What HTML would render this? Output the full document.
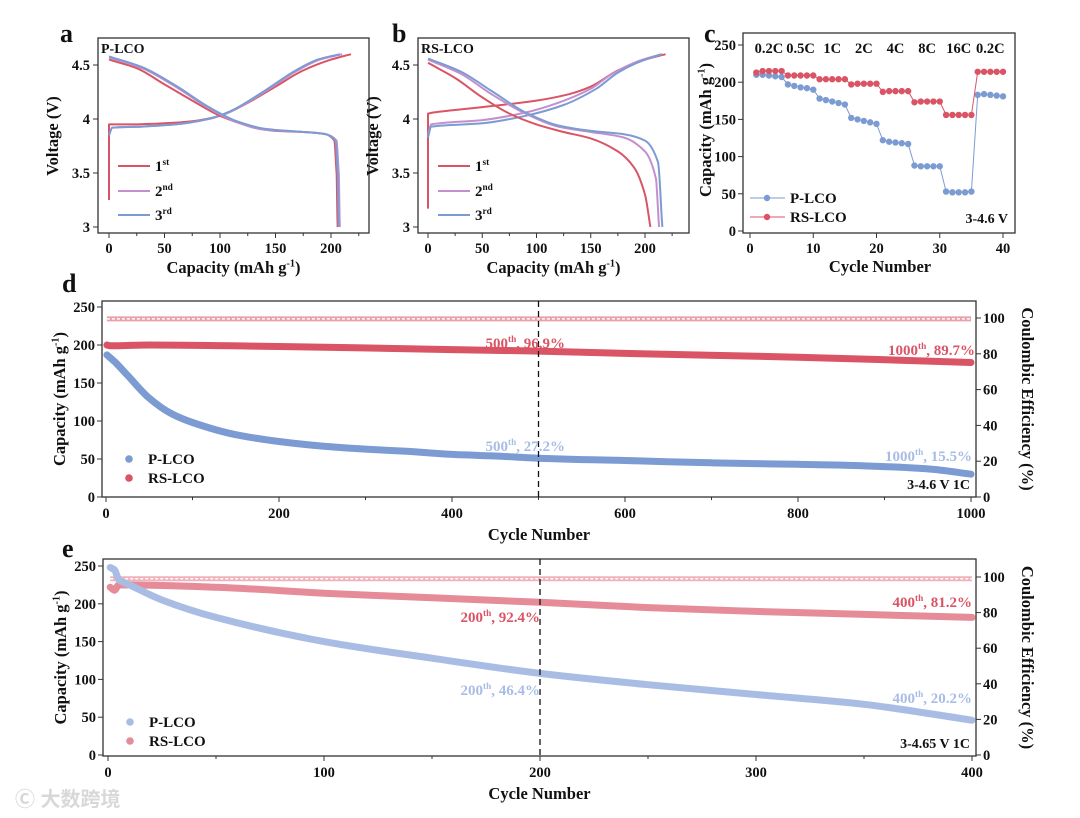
<!DOCTYPE html>
<html><head><meta charset="utf-8">
<style>
html,body{margin:0;padding:0;background:#fff;}
svg{display:block;font-family:"Liberation Serif",serif;font-weight:bold;}
</style></head>
<body>
<svg id="fig" width="1080" height="818" viewBox="0 0 1080 818" xmlns="http://www.w3.org/2000/svg"></svg>
<script>
// ---- Panel a data (capacity, voltage)
const aCh1X=[0,0,20,50,75,100,125,150,175,200,218];
const aCh1Y=[3.25,3.95,3.95,3.96,3.98,4.03,4.15,4.3,4.45,4.55,4.6];
const aCh2X=[0,3,30,60,90,110,140,170,190,210];
const aCh2Y=[3.85,3.92,3.93,3.95,4.0,4.07,4.25,4.45,4.55,4.6];
const aDc1X=[0,25,50,75,100,125,150,175,195,203,205,206];
const aDc1Y=[4.55,4.47,4.32,4.17,4.03,3.94,3.89,3.88,3.86,3.8,3.5,3.0];
const aDc2X=[0,30,60,90,115,140,175,195,205,207,208];
const aDc2Y=[4.57,4.47,4.3,4.1,3.97,3.9,3.88,3.86,3.8,3.5,3.0];
const aDc3X=[0,30,60,90,115,140,175,195,204,206,207];
const aDc3Y=[4.58,4.48,4.31,4.11,3.98,3.91,3.88,3.86,3.8,3.5,3.0];
// ---- Panel b data
const bCh1X=[0,0,5,50,100,130,150,175,200,219];
const bCh1Y=[3.17,4.05,4.06,4.11,4.17,4.23,4.3,4.45,4.55,4.6];
const bCh2X=[0,3,50,90,120,150,170,195,215];
const bCh2Y=[3.85,3.95,3.99,4.06,4.15,4.28,4.42,4.54,4.6];
const bCh3X=[0,3,50,90,125,155,175,195,216];
const bCh3Y=[3.83,3.93,3.96,4.03,4.13,4.28,4.43,4.53,4.6];
const bDc1X=[0,25,50,75,100,125,150,175,190,200,205];
const bDc1Y=[4.52,4.38,4.2,4.05,3.95,3.88,3.82,3.7,3.55,3.3,3.0];
const bDc2X=[0,30,60,90,120,150,180,200,210,213];
const bDc2Y=[4.55,4.42,4.22,4.05,3.93,3.88,3.83,3.7,3.45,3.0];
const bDc3X=[0,30,60,90,120,150,180,200,212,216];
const bDc3Y=[4.56,4.44,4.25,4.06,3.94,3.89,3.86,3.8,3.6,3.0];
// ---- Panel c data
const cCycles=[1,2,3,4,5,6,7,8,9,10,11,12,13,14,15,16,17,18,19,20,21,22,23,24,25,26,27,28,29,30,31,32,33,34,35,36,37,38,39,40];
const cP=[210,210,209,208,207,197,195,193,192,190,178,176,174,172,170,152,150,148,146,144,122,120,119,118,117,88,87,87,87,87,53,52,52,52,53,183,184,183,182,181];
const cRS=[213,215,215,215,215,209,209,209,209,209,204,204,204,204,204,197,198,198,198,198,187,188,188,188,188,173,174,174,174,174,156,156,156,156,156,214,214,214,214,214];
const cRates=["0.2C","0.5C","1C","2C","4C","8C","16C","0.2C"];
// ---- Panel d data
const dPX=[1,10,25,50,75,100,150,200,250,300,350,400,450,500,600,700,750,800,850,900,950,1000];
const dPY=[187,178,160,130,110,98,82,73,67,63,60,56,54,51,48,45,44,43,42,40,37,30];
const dRX=[1,5,50,200,400,500,600,800,1000];
const dRY=[200,199,200,198,194,192,189,184,177];
const dCEX=[1,1000];
const dCEY=[99.5,99.5];
// ---- Panel e data
const ePX=[1,3,5,10,25,50,100,150,200,250,300,350,400];
const ePY=[248,245,232,225,205,182,150,128,108,93,80,67,46];
const eRX=[1,3,5,50,100,150,200,250,300,350,400];
const eRY=[222,218,225,222,214,208,202,195,190,186,182];
const eCEX=[1,400];
const eCEY=[99,99];

const NS="http://www.w3.org/2000/svg";
const svg=document.getElementById('fig');
function el(tag,attrs,parent){const e=document.createElementNS(NS,tag);for(const k in attrs)e.setAttribute(k,attrs[k]);(parent||svg).appendChild(e);return e;}
function txt(x,y,s,size,anchor,fill,parent){const t=el('text',{x:x,y:y,'font-size':size,'text-anchor':anchor||'start',fill:fill||'#111'},parent);t.textContent=s;return t;}
function sup(x,y,base,sp,rest,size,anchor,fill){const t=el('text',{x:x,y:y,'font-size':size,'text-anchor':anchor||'start',fill:fill||'#111'});
 const a=el('tspan',{},t);a.textContent=base;const b=el('tspan',{dy:-size*0.4,'font-size':size*0.62},t);b.textContent=sp;const c=el('tspan',{dy:size*0.4},t);c.textContent=rest;return t;}
function lin(d0,d1,p0,p1){return v=>p0+(v-d0)*(p1-p0)/(d1-d0);}
function path(xs,ys,sx,sy){return xs.map((v,i)=>(i?'L':'M')+sx(v).toFixed(1)+','+sy(ys[i]).toFixed(1)).join(' ');}
// monotone-in-x smoothing (Fritsch-Carlson style tangents) to avoid overshoot; vertical steps drawn straight
function smooth(xs,ys,sx,sy){
 const P=xs.map((v,i)=>[sx(v),sy(ys[i])]);
 let d='M'+P[0][0].toFixed(1)+','+P[0][1].toFixed(1);
 const n=P.length;
 const m=[];
 for(let i=0;i<n;i++){
  const a=i>0?P[i-1]:null,b=i<n-1?P[i+1]:null;
  const s1=a?(P[i][0]-a[0]>0.5?(P[i][1]-a[1])/(P[i][0]-a[0]):null):null;
  const s2=b?(b[0]-P[i][0]>0.5?(b[1]-P[i][1])/(b[0]-P[i][0]):null):null;
  if(s1===null||s2===null) m.push(s1===null?(s2===null?0:s2):s1);
  else if(s1*s2<=0) m.push(0);
  else m.push(2/(1/s1+1/s2));
 }
 for(let i=0;i<n-1;i++){
  const p1=P[i],p2=P[i+1],h=p2[0]-p1[0];
  if(h<=0.5){d+=' L'+p2[0].toFixed(1)+','+p2[1].toFixed(1);continue;}
  let m1=m[i],m2=m[i+1];
  const lim=12;m1=Math.max(-lim,Math.min(lim,m1));m2=Math.max(-lim,Math.min(lim,m2));
  d+=' C'+(p1[0]+h/3).toFixed(1)+','+(p1[1]+m1*h/3).toFixed(1)+' '+(p2[0]-h/3).toFixed(1)+','+(p2[1]-m2*h/3).toFixed(1)+' '+p2[0].toFixed(1)+','+p2[1].toFixed(1);
 }
 return d;
}

const RED='#d95565', BLUE='#7b9bd2', PURP='#c38fcf', LBLUE='#a9bde4', LRED='#e58c98';
const TK=14.5, TT=16.5;

// ================= Panels a & b =================
function voltPanel(L,R,x0,x200,name,label,letter,lx,curves){
 const g=el('g',{});
 
 
 const sx=lin(0,200,x0,x200), sy=lin(3,4.5,227,65);
 const box=el('rect',{x:L,y:38,width:R-L,height:195,fill:'none',stroke:'#333','stroke-width':1.3},g);
 
 
 [0,50,100,150,200].forEach(v=>{el('line',{x1:sx(v),x2:sx(v),y1:233,y2:238,stroke:'#333'},g);txt(sx(v),253,String(v),TK,'middle','#111',g);});
 [25,75,125,175,225].forEach(v=>el('line',{x1:sx(v),x2:sx(v),y1:233,y2:236,stroke:'#333'},g));
 [[3,'3'],[3.5,'3.5'],[4,'4'],[4.5,'4.5']].forEach(([v,s])=>{el('line',{x1:L-5,x2:L,y1:sy(v),y2:sy(v),stroke:'#333'},g);txt(L-8,sy(v)+5,s,TK,'end','#111',g);});
 curves.forEach(c=>{const p=el('path',{d:smooth(c[0],c[1],sx,sy),fill:'none',stroke:c[2],'stroke-width':2,'stroke-linejoin':'round'},g);
  
  });
 const t=sup(L+(R-L)/2,273,'Capacity (mAh g','-1',')',TT,'middle');
 
 
 const yt=txt(0,0,'Voltage (V)',TT,'middle','#111',g);
 yt.setAttribute('transform','translate('+(L-40)+',136) rotate(-90)');
 
 
 txt(L+3,53,label,14,'start','#111',g);
 const lt=txt(lx,42,letter,26,'start','#111',g);
 
 
 [['1','st',RED,171],['2','nd',PURP,196],['3','rd',BLUE,220]].forEach(([n,s,c,y])=>{
  el('line',{x1:L+20,x2:L+52,y1:y-5,y2:y-5,stroke:c,'stroke-width':2},g);
  const lg=sup(L+57,y,n,s,'',15,'start');
  
  
 });
}
voltPanel(98,369,109,331,'panel-a','P-LCO','a',60,[
 [aCh1X,aCh1Y,RED,'charge-1st'],[aCh2X,aCh2Y,PURP,'charge-2nd'],[aCh2X.map(v=>v*0.99),aCh2Y,BLUE,'charge-3rd'],
 [aDc1X,aDc1Y,RED,'discharge-1st'],[aDc2X,aDc2Y,PURP,'discharge-2nd'],[aDc3X,aDc3Y,BLUE,'discharge-3rd']]);
voltPanel(418,689,428,645,'panel-b','RS-LCO','b',392,[
 [bCh1X,bCh1Y,RED,'charge-1st'],[bCh2X,bCh2Y,PURP,'charge-2nd'],[bCh3X,bCh3Y,BLUE,'charge-3rd'],
 [bDc1X,bDc1Y,RED,'discharge-1st'],[bDc2X,bDc2Y,PURP,'discharge-2nd'],[bDc3X,bDc3Y,BLUE,'discharge-3rd']]);

// ================= Panel c =================
(function(){
 const g=el('g',{});
 
 
 const L=743,R=1015,T=33,B=233;
 const sx=lin(0,40,750,1003), sy=lin(0,250,231,45);
 el('rect',{x:L,y:T,width:R-L,height:B-T,fill:'none',stroke:'#333','stroke-width':1.3},g);
 [0,10,20,30,40].forEach(v=>{el('line',{x1:sx(v),x2:sx(v),y1:B,y2:B+5,stroke:'#333'},g);txt(sx(v),253,String(v),TK,'middle','#111',g);});
 [0,50,100,150,200,250].forEach(v=>{el('line',{x1:L-5,x2:L,y1:sy(v),y2:sy(v),stroke:'#333'},g);txt(L-7,sy(v)+5,String(v),TK,'end','#111',g);});
 [[cP,BLUE,'p-lco-rate'],[cRS,RED,'rs-lco-rate']].forEach(([d,c,n])=>{
  const p=el('path',{d:path(cCycles,d,sx,sy),fill:'none',stroke:c,'stroke-width':1},g);
  
  
  d.forEach((v,i)=>{const m=el('circle',{cx:sx(cCycles[i]),cy:sy(v),r:3.2,fill:c},g);
   
   });
 });
 cRates.forEach((s,i)=>{const t=txt(sx(i*5+3),53,s,14.5,'middle','#111',g);
  
  });
 [['P-LCO',BLUE,203],['RS-LCO',RED,222]].forEach(([s,c,y])=>{
  el('line',{x1:750,x2:785,y1:y-5,y2:y-5,stroke:c},g);el('circle',{cx:767,cy:y-5,r:3.2,fill:c},g);
  const t=txt(790,y,s,15,'start','#111',g);
  
  });
 txt(1008,223,'3-4.6 V',14,'end','#111',g);
 txt(880,272,'Cycle Number',TT,'middle','#111',g);
 const yt=sup(0,0,'Capacity (mAh g','-1',')',TT,'middle');
 yt.setAttribute('transform','translate(711,130) rotate(-90)');
 
 
 txt(704,42,'c',26,'start','#111',g);
})();

// ================= Panels d & e =================
function cyclePanel(o){
 const g=el('g',{});
 
 
 const {L,R,T,B}=o;
 const sx=lin(0,o.xmax,o.x0,o.xEnd), sy=lin(0,250,o.y0,o.y250), sy2=lin(0,100,o.y0,o.y100);
 el('rect',{x:L,y:T,width:R-L,height:B-T,fill:'none',stroke:'#333','stroke-width':1.3},g);
 o.xt.forEach(v=>{el('line',{x1:sx(v),x2:sx(v),y1:B,y2:B+5,stroke:'#333'},g);txt(sx(v),B+21,String(v),TK,'middle','#111',g);});
 o.xm.forEach(v=>el('line',{x1:sx(v),x2:sx(v),y1:B,y2:B+3,stroke:'#333'},g));
 [0,50,100,150,200,250].forEach(v=>{el('line',{x1:L-5,x2:L,y1:sy(v),y2:sy(v),stroke:'#333'},g);txt(L-7,sy(v)+5,String(v),TK,'end','#111',g);});
 [0,20,40,60,80,100].forEach(v=>{el('line',{x1:R,x2:R+5,y1:sy2(v),y2:sy2(v),stroke:'#333'},g);txt(R+7,sy2(v)+5,String(v),TK,'start','#111',g);});
 const ce=el('path',{d:path(o.ceX,o.ceY,sx,sy2),fill:'none',stroke:o.ceCol,'stroke-width':5},g);
 
 
 el('path',{d:path(o.ceX,o.ceY,sx,sy2),fill:'none',stroke:'#fff','stroke-width':1.5,'stroke-dasharray':'3 2'},g);
 const rs=el('path',{d:smooth(o.rX,o.rY,sx,sy),fill:'none',stroke:o.rc,'stroke-width':7,'stroke-linecap':'round'},g);
 
 
 const p=el('path',{d:smooth(o.pX,o.pY,sx,sy),fill:'none',stroke:o.pc,'stroke-width':7,'stroke-linecap':'round'},g);
 
 
 const dl=el('line',{x1:sx(o.mid),x2:sx(o.mid),y1:T,y2:B,stroke:'#111','stroke-width':1.3,'stroke-dasharray':'6 4'},g);
 
 
 o.ann.forEach(a=>{const t=sup(a[0],a[1],a[2],'th',a[3],15,'end',a[4]);
  
  });
 txt(R-6,B-8,o.cond,14,'end','#111',g);
 [['P-LCO',o.pc,o.legY],['RS-LCO',o.rc,o.legY+19]].forEach(([s,c,y])=>{
  el('circle',{cx:L+27,cy:y-5,r:3.8,fill:c},g);
  const t=txt(L+46,y,s,15,'start','#111',g);
  
  });
 txt((L+R)/2,B+43,'Cycle Number',TT,'middle','#111',g);
 const yt=sup(0,0,'Capacity (mAh g','-1',')',TT,'middle');
 yt.setAttribute('transform','translate('+(L-37)+','+((T+B)/2)+') rotate(-90)');
 
 
 const yt2=txt(0,0,'Coulombic Efficiency (%)',TT,'middle','#111',g);
 yt2.setAttribute('transform','translate('+(R+46)+','+((T+B)/2)+') rotate(90)');
 
 
 txt(o.letX,o.letY,o.letter,26,'start','#111',g);
}
cyclePanel({name:'panel-d',L:102,R:976,T:301,B:497,xmax:1000,x0:106,xEnd:971,y0:497,y250:307,y100:318,
 xt:[0,200,400,600,800,1000],xm:[100,300,500,700,900],ceX:dCEX,ceY:dCEY,ceCol:'#eaa0aa',
 rX:dRX,rY:dRY,pX:dPX,pY:dPY,rc:RED,pc:BLUE,mid:500,legY:464,cond:'3-4.6 V 1C',letter:'d',letX:62,letY:292,
 ann:[[565,348,'500',', 96.9%',RED],[975,355,'1000',', 89.7%',RED],[565,451,'500',', 27.2%',LBLUE],[972,461,'1000',', 15.5%',LBLUE]]});
cyclePanel({name:'panel-e',L:103,R:976,T:559,B:756,xmax:400,x0:108,xEnd:972,y0:755,y250:566,y100:577,
 xt:[0,100,200,300,400],xm:[50,150,250,350],ceX:eCEX,ceY:eCEY,ceCol:'#f0b2ba',
 rX:eRX,rY:eRY,pX:ePX,pY:ePY,rc:LRED,pc:LBLUE,mid:200,legY:727,cond:'3-4.65 V 1C',letter:'e',letX:62,letY:557,
 ann:[[540,622,'200',', 92.4%',RED],[972,607,'400',', 81.2%',RED],[540,695,'200',', 46.4%',LBLUE],[972,703,'400',', 20.2%',LBLUE]]});

const wm=txt(15,806,'Ⓒ 大数跨境',20,'start','#d8d8d8');
wm.setAttribute('font-family','"Liberation Sans","Noto Sans CJK SC",sans-serif');


</script>
</body></html>
